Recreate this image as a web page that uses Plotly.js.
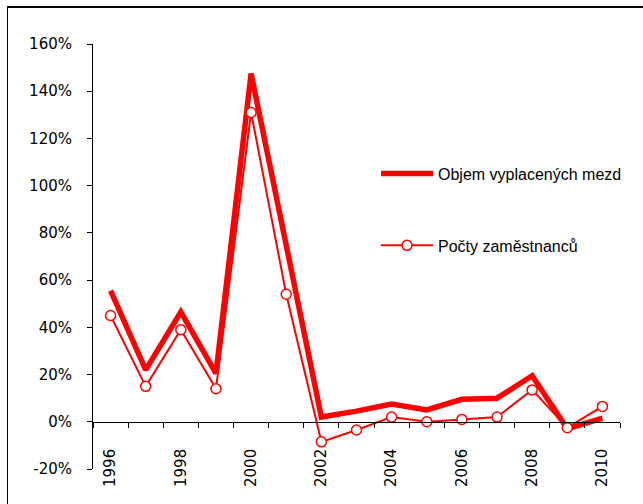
<!DOCTYPE html>
<html>
<head>
<meta charset="utf-8">
<script src="https://cdn.plot.ly/plotly-3.0.1.min.js"></script>
<style>
  html, body { margin: 0; padding: 0; background: #fff; overflow: hidden; }
  #chart { width: 643px; height: 504px; }
  #frame { position: absolute; left: 7px; top: 6px; width: 700px; height: 600px;
           border-left: 1px solid #000; border-top: 2px solid #000; pointer-events: none; }
</style>
</head>
<body>
<div id="chart"></div>
<div id="frame"></div>
<script>
// Data
const years = [1996, 1997, 1998, 1999, 2000, 2001, 2002, 2003, 2004, 2005, 2006, 2007, 2008, 2009, 2010];
const objemMezd = [55.5, 22, 46.5, 20.5, 147.5, 75, 2, 4.5, 7.5, 5, 9.5, 10, 19.5, -3, 1.5];
const poctyZamestnancu = [45, 15, 39, 14, 131, 54, -8.5, -3.5, 2, 0, 1, 2, 13.5, -2.5, 6.5];
const xTickVals = [1996, 1998, 2000, 2002, 2004, 2006, 2008, 2010];
const yTickVals = [-20, 0, 20, 40, 60, 80, 100, 120, 140, 160];
const seriesNames = ['Objem vyplacených mezd', 'Počty zaměstnanců'];

const red = '#FF0000';

const traces = [
  {
    x: years, y: objemMezd, name: seriesNames[0], type: 'scatter', mode: 'lines',
    line: { color: red, width: 5.5 }, legendgroup: 'a'
  },
  {
    x: years, y: poctyZamestnancu, name: seriesNames[1], type: 'scatter', mode: 'lines+markers',
    line: { color: red, width: 2 },
    marker: { symbol: 'circle', size: 10, color: '#FFFFFF', line: { color: red, width: 1.5 } },
    legendgroup: 'b'
  }
];

const layout = {
  width: 643, height: 504,
  paper_bgcolor: '#FFFFFF', plot_bgcolor: '#FFFFFF',
  margin: { l: 93, r: 23, t: 44, b: 35 },
  font: { family: 'Liberation Sans, Arial, sans-serif', color: '#000', size: 15 },
  showlegend: true,
  legend: {
    x: 0.537, y: 0.735, xanchor: 'left', yanchor: 'top',
    bgcolor: 'rgba(0,0,0,0)', borderwidth: 0,
    font: { family: 'Liberation Sans, Arial, sans-serif', size: 16, color: '#000' },
    tracegroupgap: 48, traceorder: 'grouped', itemwidth: 52
  },
  xaxis: {
    type: 'linear', range: [1995.5, 2010.5],
    anchor: 'free', position: 20 / 180,
    showline: true, linecolor: '#000', linewidth: 1,
    showgrid: false, zeroline: false,
    tickmode: 'array', tickvals: xTickVals, ticktext: xTickVals.map(String),
    ticks: '', tickangle: -90, ticklabelstandoff: 20,
    tickfont: { family: 'DejaVu Sans, sans-serif', size: 15, color: '#000' },
    minor: { tick0: 1995.5, dtick: 1, ticks: 'outside', ticklen: 5, tickcolor: '#000', tickwidth: 1, showgrid: false }
  },
  yaxis: {
    range: [-20, 160],
    tickmode: 'array', tickvals: yTickVals, ticktext: yTickVals.map(v => v + '%'),
    showline: true, linecolor: '#000', linewidth: 1,
    showgrid: false, zeroline: false,
    ticks: 'outside', ticklen: 5, tickcolor: '#000',
    ticklabelstandoff: 12,
    tickfont: { family: 'DejaVu Sans, sans-serif', size: 15, color: '#000' }
  }
};

Plotly.newPlot('chart', traces, layout, { staticPlot: true, displayModeBar: false });
</script>
</body>
</html>
